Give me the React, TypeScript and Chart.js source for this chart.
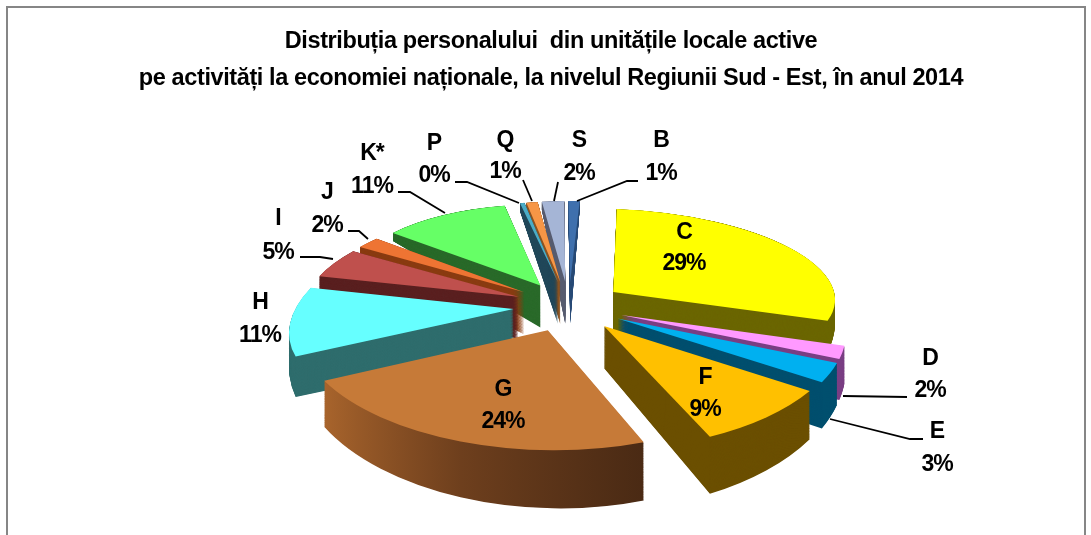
import React, { useEffect, useRef } from "react";
import { Chart, registerables } from "chart.js";

Chart.register(...registerables);

const categories = ["B", "C", "D", "E", "F", "G", "H", "I", "J", "K*", "P", "Q", "S"];
const shares = [1, 29, 2, 3, 9, 24, 11, 5, 2, 11, 0.4, 1, 2];
const shareLabels = ["1%", "29%", "2%", "3%", "9%", "24%", "11%", "5%", "2%", "11%", "0%", "1%", "2%"];
const titleLines = [
  "Distribuția personalului  din unitățile locale active",
  "pe activități la economiei naționale, la nivelul Regiunii Sud - Est, în anul 2014",
];

const topColors = ["#3f70ad", "#ffff00", "#ff99ff", "#00b0f0", "#ffc000", "#c67a38", "#66ffff", "#bf504d", "#ee7433", "#66ff66", "#4bacc6", "#f79646", "#a5b5d6"];
const wallColors = ["#2b4d78", "#6b6600", "#7a3f84", "#004f6e", "#6b4f00", "G", "#2f6d6d", "#5a2020", "#8a3c12", "#2a6a2a", "#22485a", "#8a5424", "#585d70"];

// label centres [x, first line y, second line y]
const labelPos = [
  [661, 141, 174], [684, 233, 264], [930, 359, 391], [937, 432, 465], [705, 378, 410],
  [503, 390, 422], [260, 303, 336], [278, 219, 253], [327, 193, 226], [372, 154, 187],
  [434, 144, 176], [505, 141, 172], [579, 141, 174],
];
// leader-line polylines
const leaders: number[][][] = [
  [[638, 181], [627, 181], [577, 201]],
  [],
  [[907, 397], [843, 396]],
  [[923, 439], [910, 439], [830, 419]],
  [], [], [],
  [[300, 257], [320, 257], [333, 259]],
  [[348, 231], [359, 231], [368, 239]],
  [[398, 192], [410, 192], [445, 213]],
  [[455, 182], [467, 182], [519, 203]],
  [[523, 180], [532, 201]],
  [[558, 182], [554, 201]],
];

// projection of the pie's ground plane on the screen
const CX = 569, CY = 306, RX = 217, RY = 98.3, PERSP_X = 0.17, PERSP_Y = 0.14, EXPLODE = 0.255, SHEAR = 5;
const project = (u: number, v: number) => [
  CX + (RX * u) / (1 - PERSP_X * v) - SHEAR * Math.max(v, 0),
  CY + (RY * v) / (1 - PERSP_Y * v),
];
const apexDepth = 42;
const rimDepth = (v: number) => Math.max(8, 28 + 26 * v);

function drawSliceLayer(ctx: any, arc: any, t: number, fill: any) {
  const t1 = arc.startAngle, t2 = arc.endAngle, mid = (t1 + t2) / 2, R = arc.outerRadius;
  const eu = EXPLODE * Math.cos(mid), ev = EXPLODE * Math.sin(mid);
  const c1v = ev + Math.sin(t1), c2v = ev + Math.sin(t2);
  const A = project(eu, ev);
  A[1] += apexDepth * t;
  const C1 = project(eu + Math.cos(t1), c1v);
  C1[1] += rimDepth(c1v) * t;
  const C2 = project(eu + Math.cos(t2), c2v);
  C2[1] += rimDepth(c2v) * t;
  const dx1 = R * Math.cos(t1), dy1 = R * Math.sin(t1), dx2 = R * Math.cos(t2), dy2 = R * Math.sin(t2);
  const Dx1 = C1[0] - A[0], Dy1 = C1[1] - A[1], Dx2 = C2[0] - A[0], Dy2 = C2[1] - A[1];
  const det = dx1 * dy2 - dx2 * dy1;
  const a = (Dx1 * dy2 - Dx2 * dy1) / det;
  const c = (Dx2 * dx1 - Dx1 * dx2) / det;
  const b = (Dy1 * dy2 - Dy2 * dy1) / det;
  const d = (Dy2 * dx1 - Dy1 * dx2) / det;
  ctx.save();
  ctx.transform(a, b, c, d, A[0] - a * arc.x - c * arc.y, A[1] - b * arc.x - d * arc.y);
  const saved = arc.options;
  let style = fill;
  if (fill === "G") {
    const g = ctx.createLinearGradient(arc.x + dx1, arc.y + dy1, arc.x + dx2, arc.y + dy2);
    g.addColorStop(0, "#4a2a14");
    g.addColorStop(0.5, "#6e3f1d");
    g.addColorStop(1, "#a8642c");
    style = g;
  }
  arc.options = { ...saved, backgroundColor: style, borderWidth: 0 };
  arc.draw(ctx);
  arc.options = saved;
  ctx.restore();
}

const piePlugin = {
  id: "tiltedPie",
  beforeDraw(chart: any) {
    const ctx = chart.ctx;
    ctx.save();
    ctx.strokeStyle = "#868686";
    ctx.lineWidth = 2;
    ctx.beginPath();
    ctx.moveTo(7, 535);
    ctx.lineTo(7, 7);
    ctx.lineTo(1085, 7);
    ctx.lineTo(1085, 535);
    ctx.stroke();
    ctx.restore();
    (ctx as any).letterSpacing = "-0.4px";
  },
  beforeDatasetsDraw(chart: any) {
    const ctx = chart.ctx;
    const arcs = chart.getDatasetMeta(0).data.map((arc: any, i: number) => ({ arc, i }));
    arcs.sort((p: any, q: any) => Math.sin((p.arc.startAngle + p.arc.endAngle) / 2) - Math.sin((q.arc.startAngle + q.arc.endAngle) / 2));
    const LAYERS = 70;
    for (const { arc, i } of arcs) {
      for (let k = LAYERS; k >= 1; k--) drawSliceLayer(ctx, arc, k / LAYERS, wallColors[i]);
      drawSliceLayer(ctx, arc, 0, topColors[i]);
    }
    return false;
  },
  afterDraw(chart: any) {
    const ctx = chart.ctx;
    ctx.save();
    ctx.strokeStyle = "#000";
    ctx.lineWidth = 1.8;
    for (const line of leaders) {
      if (!line.length) continue;
      ctx.beginPath();
      line.forEach(([x, y], j) => (j ? ctx.lineTo(x, y) : ctx.moveTo(x, y)));
      ctx.stroke();
    }
    ctx.fillStyle = "#000";
    ctx.font = "bold 23px 'Liberation Sans'";
    (ctx as any).letterSpacing = "-1px";
    ctx.textAlign = "center";
    ctx.textBaseline = "middle";
    categories.forEach((cat, i) => {
      const [x, y1, y2] = labelPos[i];
      ctx.fillText(cat, x, y1);
      ctx.fillText(shareLabels[i], x, y2);
    });
    ctx.restore();
  },
};

export default function App() {
  const ref = useRef<HTMLCanvasElement>(null);
  useEffect(() => {
    document.body.style.margin = "0";
    document.body.style.background = "#fff";
    const chart = new Chart(ref.current as HTMLCanvasElement, {
      type: "pie",
      data: {
        labels: categories,
        datasets: [{ data: shares, backgroundColor: topColors, borderWidth: 0 }],
      },
      options: {
        responsive: false,
        animation: false,
        rotation: -0.5,
        layout: { padding: { left: 11, top: 23 } },
        plugins: {
          legend: { display: false },
          tooltip: { enabled: false },
          title: {
            display: true,
            text: titleLines,
            color: "#000",
            font: { family: "'Liberation Sans'", size: 23.5, weight: "bold", lineHeight: 1.57 },
            padding: 0,
          },
        },
      },
      plugins: [piePlugin],
    } as any);
    return () => chart.destroy();
  }, []);
  return (
    <div style={{ position: "fixed", left: 0, top: 0, width: 1091, height: 535 }}>
      <canvas ref={ref} width={1091} height={535} style={{ display: "block" }} />
    </div>
  );
}
